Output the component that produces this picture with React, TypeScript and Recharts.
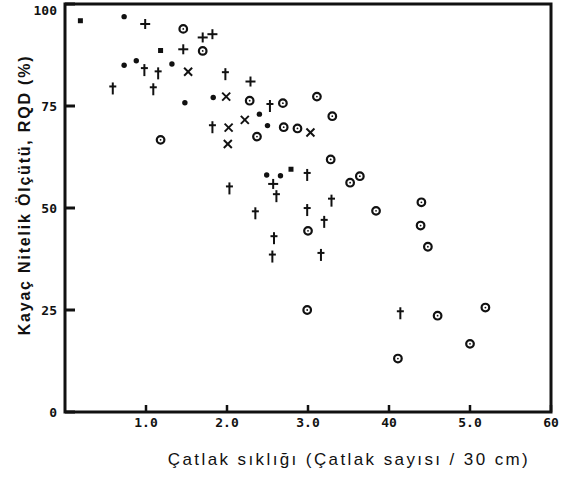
import { ScatterChart, Scatter, XAxis, YAxis, ReferenceArea, Label } from "recharts"

// RQD vs fracture frequency, grouped by marker type as printed
const squares = [
 { x: 0.19, y: 95.9 },
 { x: 1.18, y: 88.6 },
 { x: 2.79, y: 59.5 },
]

const dots = [
 { x: 0.73, y: 96.9 },
 { x: 0.73, y: 85.0 },
 { x: 0.88, y: 86.1 },
 { x: 1.32, y: 85.3 },
 { x: 1.48, y: 75.8 },
 { x: 1.83, y: 77.1 },
 { x: 2.40, y: 73.0 },
 { x: 2.50, y: 70.2 },
 { x: 2.49, y: 58.1 },
 { x: 2.66, y: 57.9 },
]

const pluses = [
 { x: 0.99, y: 95.1 },
 { x: 1.70, y: 91.8 },
 { x: 1.82, y: 92.6 },
 { x: 1.46, y: 88.9 },
 { x: 2.29, y: 81.0 },
 { x: 2.57, y: 55.9 },
]

const daggers = [
 { x: 0.98, y: 83.8 },
 { x: 1.15, y: 83.0 },
 { x: 1.98, y: 82.8 },
 { x: 0.59, y: 79.3 },
 { x: 1.09, y: 79.1 },
 { x: 2.53, y: 75.0 },
 { x: 1.82, y: 69.8 },
 { x: 2.99, y: 58.1 },
 { x: 2.61, y: 52.9 },
 { x: 2.03, y: 54.8 },
 { x: 3.29, y: 51.8 },
 { x: 2.35, y: 48.7 },
 { x: 2.99, y: 49.5 },
 { x: 3.20, y: 46.6 },
 { x: 2.58, y: 42.6 },
 { x: 2.56, y: 38.1 },
 { x: 3.16, y: 38.5 },
 { x: 4.14, y: 24.2 },
]

const crosses = [
 { x: 1.52, y: 83.4 },
 { x: 1.99, y: 77.3 },
 { x: 2.22, y: 71.6 },
 { x: 2.02, y: 69.7 },
 { x: 3.03, y: 68.5 },
 { x: 2.01, y: 65.7 },
]

const circles = [
 { x: 1.46, y: 93.9 },
 { x: 1.70, y: 88.5 },
 { x: 2.28, y: 76.3 },
 { x: 2.69, y: 75.7 },
 { x: 3.11, y: 77.3 },
 { x: 2.70, y: 69.8 },
 { x: 2.87, y: 69.5 },
 { x: 2.37, y: 67.5 },
 { x: 1.18, y: 66.7 },
 { x: 3.30, y: 72.5 },
 { x: 3.28, y: 61.9 },
 { x: 3.52, y: 56.2 },
 { x: 3.64, y: 57.8 },
 { x: 3.84, y: 49.3 },
 { x: 3.00, y: 44.4 },
 { x: 4.40, y: 51.4 },
 { x: 4.39, y: 45.7 },
 { x: 4.48, y: 40.5 },
 { x: 2.99, y: 25.0 },
 { x: 4.60, y: 23.6 },
 { x: 5.19, y: 25.6 },
 { x: 5.00, y: 16.7 },
 { x: 4.11, y: 13.1 },
]

const xTicks = [1, 2, 3, 4, 5, 6]
const xTickLabels = ["1.0", "2.0", "3.0", "40", "5.0", "60"]
const yTicks = [0, 25, 50, 75, 100]

const ink = "#111"

const Square = (p: any) => <rect x={p.cx - 2.5} y={p.cy - 2.5} width={5} height={5} fill={ink} />
const Dot = (p: any) => <circle cx={p.cx} cy={p.cy} r={2.7} fill={ink} />
const Plus = (p: any) => (
 <g stroke={ink} strokeWidth={2}>
  <line x1={p.cx - 5} y1={p.cy} x2={p.cx + 5} y2={p.cy} />
  <line x1={p.cx} y1={p.cy - 5} x2={p.cx} y2={p.cy + 5} />
 </g>
)
const Dagger = (p: any) => (
 <g stroke={ink} strokeWidth={2}>
  <line x1={p.cx} y1={p.cy - 6} x2={p.cx} y2={p.cy + 6} />
  <line x1={p.cx - 3.5} y1={p.cy - 2} x2={p.cx + 3.5} y2={p.cy - 2} />
 </g>
)
const Cross = (p: any) => (
 <g stroke={ink} strokeWidth={2}>
  <line x1={p.cx - 4} y1={p.cy - 4} x2={p.cx + 4} y2={p.cy + 4} />
  <line x1={p.cx - 4} y1={p.cy + 4} x2={p.cx + 4} y2={p.cy - 4} />
 </g>
)
const Ring = (p: any) => (
 <g>
  <circle cx={p.cx} cy={p.cy} r={3.8} fill="#fff" stroke={ink} strokeWidth={2.2} />
  <circle cx={p.cx} cy={p.cy} r={0.9} fill={ink} />
 </g>
)

const tickFont = { fontFamily: "DejaVu Sans Mono", fontSize: 13, fill: ink, fontWeight: 700 }

// keep the top label ("100") inside the picture, as in the scan
const YTick = (p: any) => (
 <text x={p.x} y={Math.max(p.y, 10)} dy="0.355em" textAnchor="end" {...tickFont}>
  {p.payload.value}
 </text>
)

export default function App() {
 return (
  <div style={{ position: "absolute", left: 0, top: 0, width: 566, height: 477, background: "#fff" }}>
   <ScatterChart width={566} height={477} margin={{ top: 4, right: 15, bottom: 0, left: 0 }}>
    <XAxis
     type="number"
     dataKey="x"
     domain={[0, 6]}
     ticks={xTicks}
     tickFormatter={(v: number) => xTickLabels[xTicks.indexOf(v)]}
     height={65}
     axisLine={false}
     tickSize={-7}
     tickMargin={13}
     tickLine={{ stroke: ink, strokeWidth: 2.5 }}
     tick={tickFont}
     interval={0}
    >
     <Label
      value="Çatlak sıklığı (Çatlak sayısı / 30 cm)"
      position="center"
      dx={41}
      dy={14}
      style={{ fontFamily: "Liberation Sans", fontSize: 17, letterSpacing: 2.4, fill: ink }}
     />
    </XAxis>
    <YAxis
     type="number"
     dataKey="y"
     domain={[0, 100]}
     ticks={yTicks}
     width={65}
     axisLine={false}
     tickSize={-10}
     tickMargin={18}
     tickLine={{ stroke: ink, strokeWidth: 3 }}
     tick={YTick}
     interval={0}
    >
     <Label
      value="Kayaç Nitelik Ölçütü,  RQD (%)"
      position="center"
      angle={-90}
      dx={-8}
      dy={-13}
      style={{ fontFamily: "Liberation Sans", fontSize: 16, fontWeight: 700, letterSpacing: 1.8, fill: ink }}
     />
    </YAxis>
    <ReferenceArea x1={0} x2={6} y1={0} y2={100} fill="none" stroke={ink} strokeWidth={3} />
    <Scatter data={squares} shape={Square} isAnimationActive={false} />
    <Scatter data={dots} shape={Dot} isAnimationActive={false} />
    <Scatter data={pluses} shape={Plus} isAnimationActive={false} />
    <Scatter data={daggers} shape={Dagger} isAnimationActive={false} />
    <Scatter data={crosses} shape={Cross} isAnimationActive={false} />
    <Scatter data={circles} shape={Ring} isAnimationActive={false} />
   </ScatterChart>
  </div>
 )
}
